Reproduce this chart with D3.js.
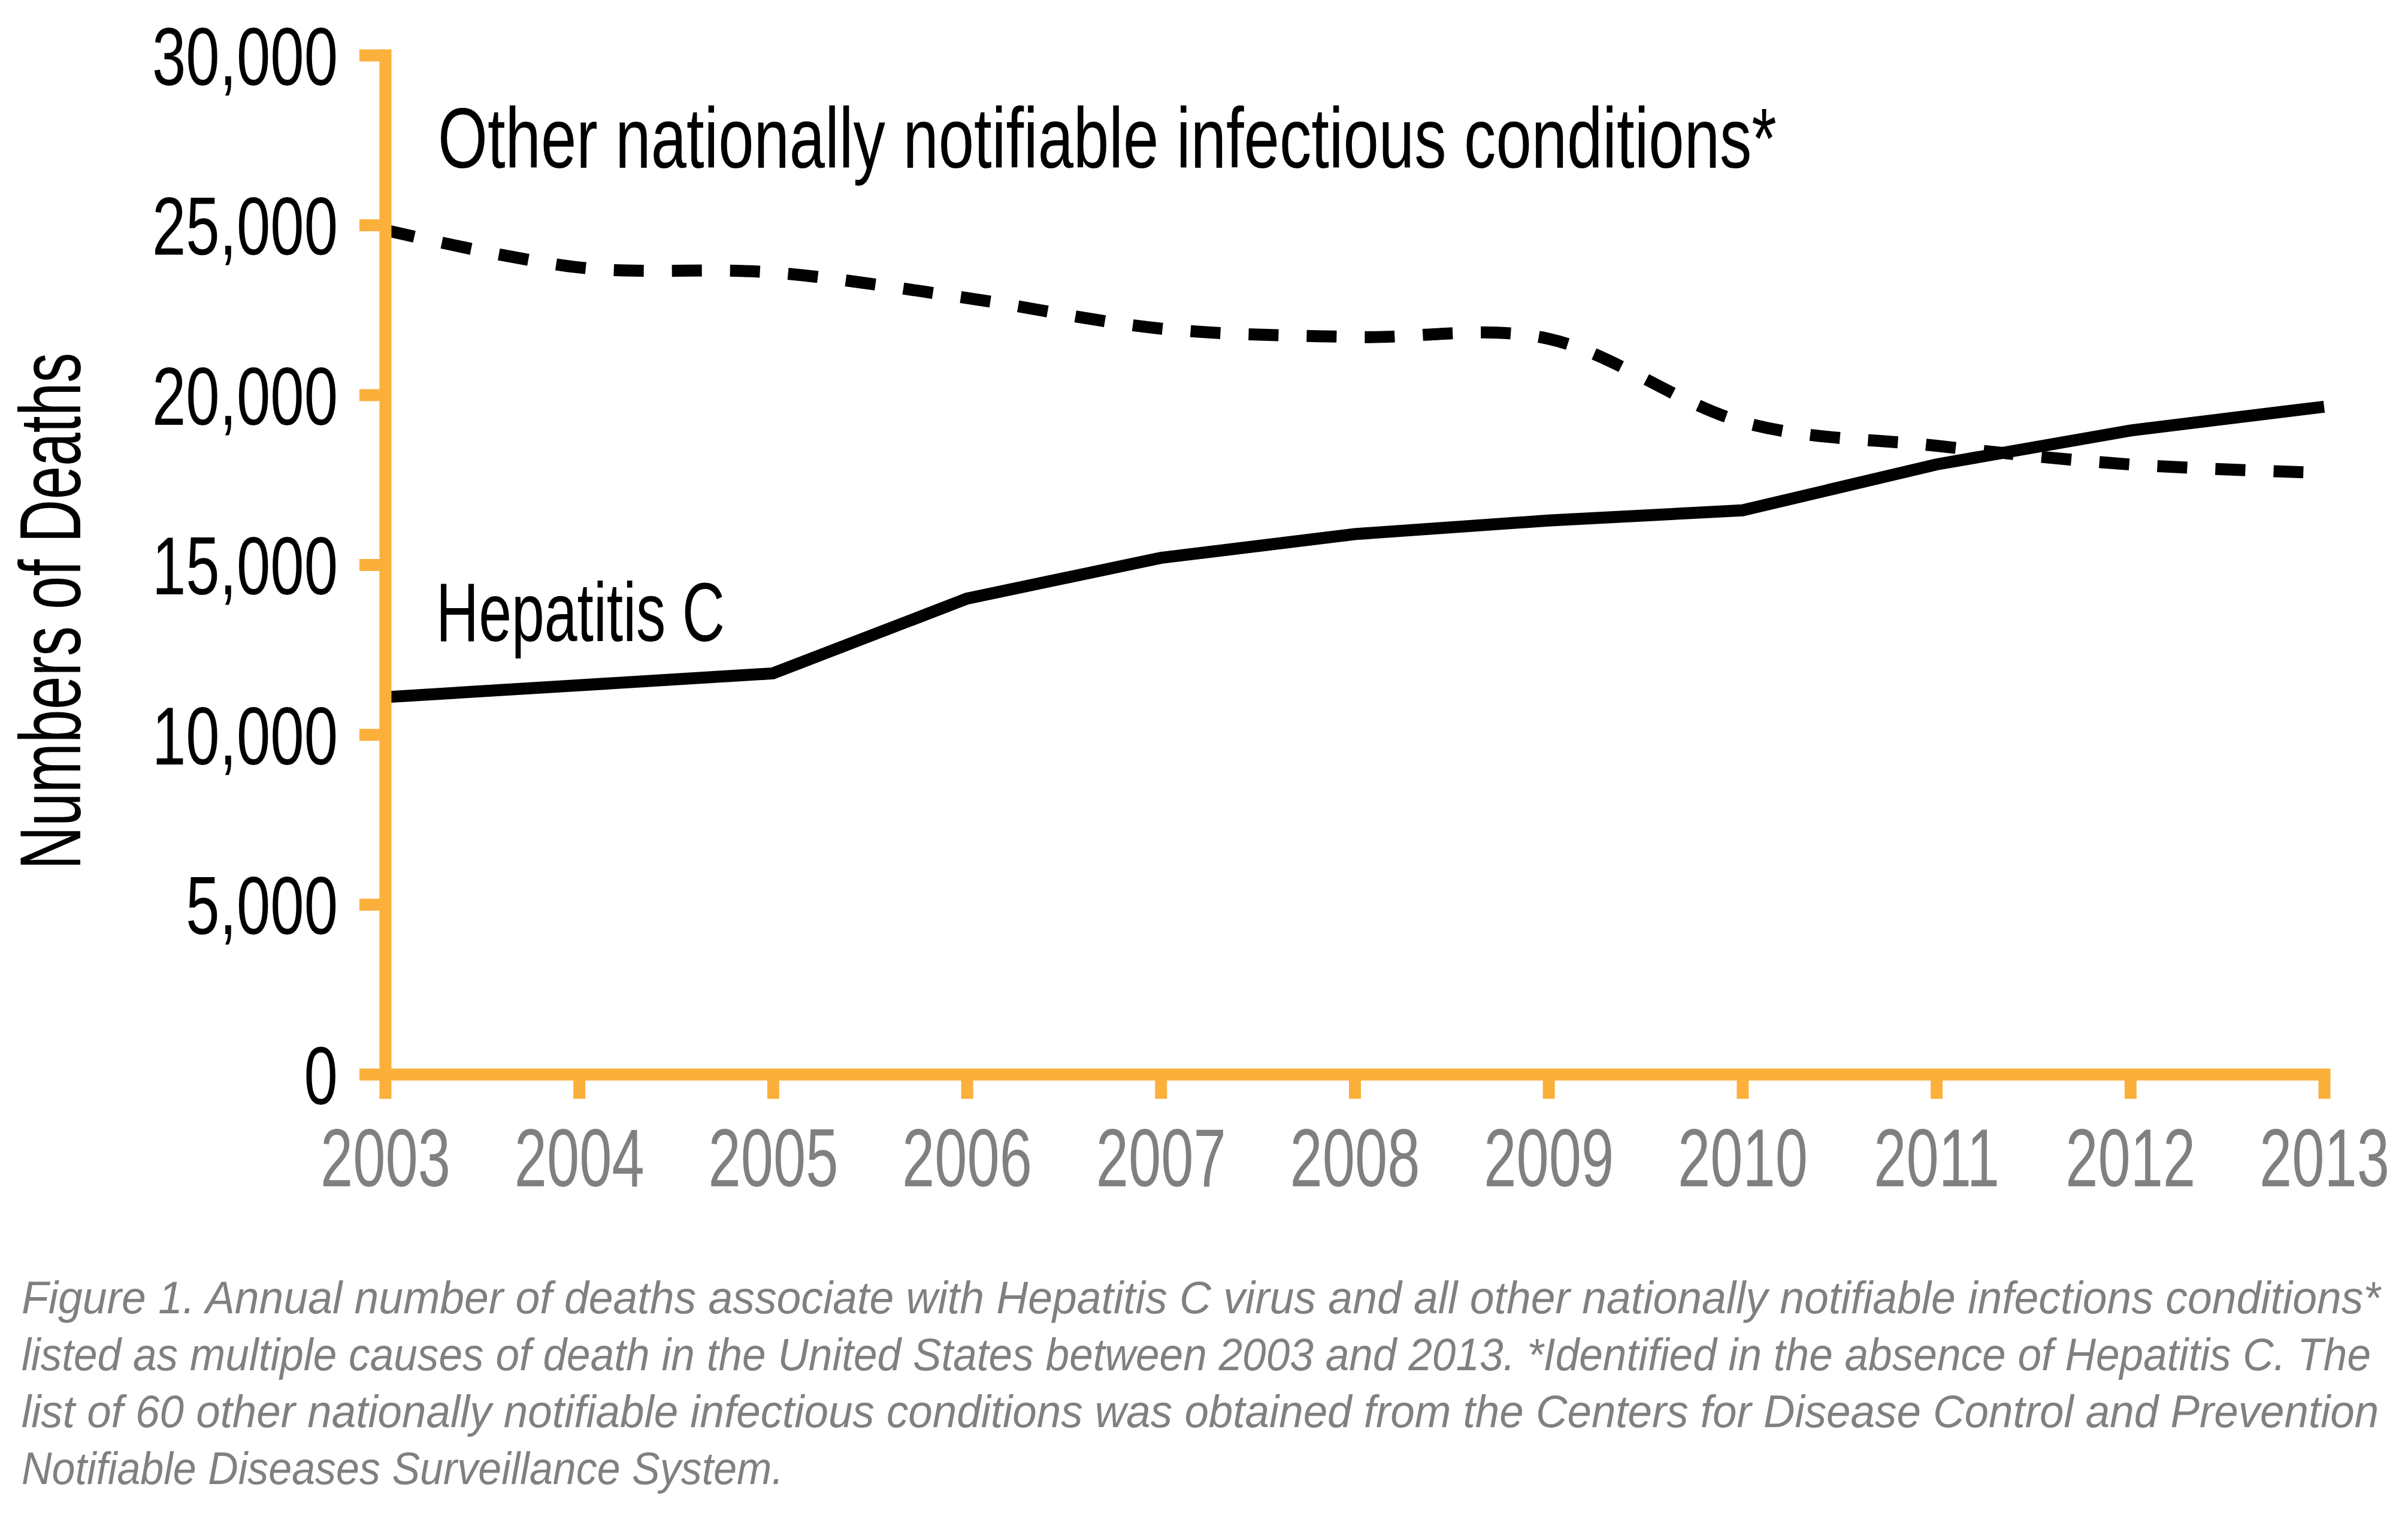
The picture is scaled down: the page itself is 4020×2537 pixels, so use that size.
<!DOCTYPE html>
<html>
<head>
<meta charset="utf-8">
<script src="https://cdn.jsdelivr.net/npm/d3@7"></script>
<style>
  body { margin: 0; background: #fff; }
  text { font-family: "Liberation Sans Narrow", "Liberation Sans", Arial, sans-serif; }
</style>
</head>
<body>
<div id="chart"></div>
<script>
// data
let years = [2003, 2004, 2005, 2006, 2007, 2008, 2009, 2010, 2011, 2012, 2013];
let hepC = [11100, 11450, 11800, 14000, 15200, 15900, 16300, 16600, 17950, 18950, 19650];
let otherConditions = [24850, 23750, 23600, 22850, 21950, 21700, 21650, 19200, 18500, 17950, 17700];
let yTicks = [0, 5000, 10000, 15000, 20000, 25000, 30000];

let otherLabel = "Other nationally notifiable infectious conditions*";
let hepLabel = "Hepatitis C";
let yTitle = "Numbers of Deaths";
let captionLines = [
  "Figure 1. Annual number of deaths associate with Hepatitis C virus and all other nationally notifiable infections conditions*",
  "listed as multiple causes of death in the United States between 2003 and 2013. *Identified in the absence of Hepatitis C. The",
  "list of 60 other nationally notifiable infectious conditions was obtained from the Centers for Disease Control and Prevention",
  "Notifiable Diseases Surveillance System."
];

// page size and chart area
let svgWidth = 4020;
let svgHeight = 2537;

let margin = {
  top: 92,
  right: 140,
  bottom: 744,
  left: 643
};

let width = svgWidth - margin.left - margin.right;
let height = svgHeight - margin.top - margin.bottom;

let orange = "#FBB03B";
let grey = "#808080";

let svg = d3.select("#chart")
  .append("svg")
  .attr("width", svgWidth)
  .attr("height", svgHeight);

let chartGroup = svg.append("g")
  .attr("transform", `translate(${margin.left}, ${margin.top})`);

// scales
let xScale = d3.scaleLinear().domain([2003, 2013]).range([0, width]);
let yScale = d3.scaleLinear().domain([0, 30000]).range([height, 0]);

// lines go under the axes
let hepLine = d3.line()
  .x((d, i) => xScale(years[i]))
  .y(d => yScale(d));

let otherLine = d3.line()
  .x((d, i) => xScale(years[i]))
  .y(d => yScale(d))
  .curve(d3.curveCardinal.tension(0));

chartGroup.append("path")
  .datum(otherConditions)
  .attr("d", otherLine)
  .attr("fill", "none")
  .attr("stroke", "#000")
  .attr("stroke-width", 20)
  .attr("stroke-dasharray", "50 47");

chartGroup.append("path")
  .datum(hepC)
  .attr("d", hepLine)
  .attr("fill", "none")
  .attr("stroke", "#000")
  .attr("stroke-width", 20)
  .attr("stroke-linejoin", "miter");

// squeeze text horizontally (around its x) so it looks like a condensed face
function squeeze(sel, target) {
  let len = sel.node().getComputedTextLength();
  let s = target / len;
  sel.each(function() {
    let t = d3.select(this);
    let tx = +t.attr("x") || 0;
    t.attr("transform", `translate(${tx},0) scale(${s},1) translate(${-tx},0)`);
  });
}

// place a text at (x, y) with its own width fitted to target
function fitText(parent, str, x, y, size, target, extra) {
  let t = parent.append("text")
    .attr("font-size", size)
    .text(str);
  if (extra) extra(t);
  let s = target / t.node().getComputedTextLength();
  t.attr("transform", `translate(${x}, ${y}) scale(${s}, 1)`);
  return t;
}

// axes
let leftAxis = d3.axisLeft(yScale)
  .tickValues(yTicks)
  .tickSize(43)
  .tickSizeOuter(0)
  .tickPadding(36)
  .tickFormat(d3.format(","));

let bottomAxis = d3.axisBottom(xScale)
  .tickValues(years)
  .tickSize(41)
  .tickSizeOuter(0)
  .tickFormat(d3.format("d"));

let xAxisG = chartGroup.append("g")
  .attr("transform", `translate(0, ${height})`)
  .call(bottomAxis);

let yAxisG = chartGroup.append("g")
  .call(leftAxis);

[xAxisG, yAxisG].forEach(g => {
  g.select(".domain")
    .attr("stroke", orange)
    .attr("stroke-width", 20)
    .attr("stroke-linecap", "square");
  g.selectAll(".tick line")
    .attr("stroke", orange)
    .attr("stroke-width", 20);
});

let xLabels = xAxisG.selectAll(".tick text")
  .attr("fill", grey)
  .attr("font-size", 137)
  .attr("y", 187)
  .attr("dy", 0);
squeeze(xLabels, 217);

let yLabels = yAxisG.selectAll(".tick text")
  .attr("fill", "#000")
  .attr("font-size", 137)
  .attr("dy", "0.36em");
squeeze(yLabels.filter(d => d === 30000), 310);
let ySqueeze = yLabels.filter(d => d === 30000).attr("transform");
yLabels.attr("transform", ySqueeze);

// series labels
fitText(svg, otherLabel, 731, 280, 142, 2235, t => t.attr("fill", "#000"));
fitText(svg, hepLabel, 728, 1070, 140, 482, t => t.attr("fill", "#000"));

// y axis title, rotated
let title = svg.append("text")
  .attr("text-anchor", "middle")
  .attr("font-size", 144)
  .attr("fill", "#000")
  .text(yTitle);
let ts = 863 / title.node().getComputedTextLength();
title.attr("transform", `translate(134, 1020) rotate(-90) scale(${ts}, 1)`);

// caption
let captionWidths = [3939, 3923, 3936, 1272];
captionLines.forEach((line, i) => {
  fitText(svg, line, 36, 2192 + i * 95, 76, captionWidths[i], t => t
    .attr("font-style", "italic")
    .attr("fill", grey));
});
</script>
</body>
</html>
